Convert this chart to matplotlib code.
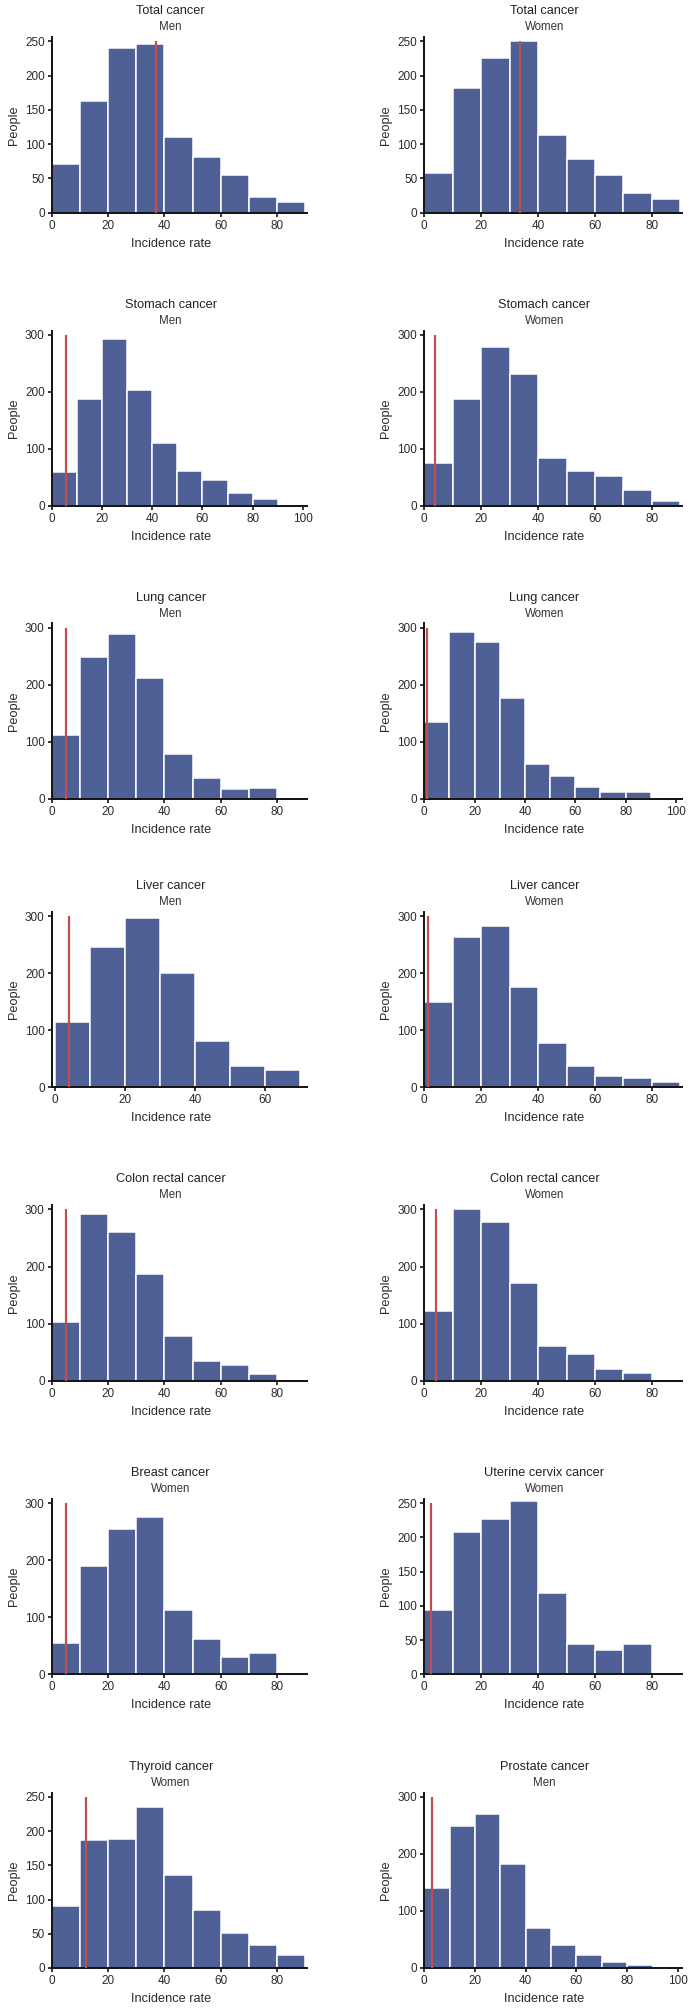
import matplotlib.pyplot as plt
from matplotlib import font_manager

# ---- data ----
cancer_types = [
    "Total cancer", "Total cancer",
    "Stomach cancer", "Stomach cancer",
    "Lung cancer", "Lung cancer",
    "Liver cancer", "Liver cancer",
    "Colon rectal cancer", "Colon rectal cancer",
    "Breast cancer", "Uterine cervix cancer",
    "Thyroid cancer", "Prostate cancer",
]
sexes = [
    "Men", "Women", "Men", "Women", "Men", "Women", "Men", "Women",
    "Men", "Women", "Women", "Women", "Women", "Men",
]

# people per incidence-rate bin (bins 0-10, 10-20, ...)
total_men = [71, 163, 241, 247, 110, 81, 55, 23, 16]
total_women = [58, 182, 226, 251, 113, 78, 55, 29, 20]
stomach_men = [60, 188, 293, 203, 110, 61, 45, 23, 12, 0]
stomach_women = [75, 188, 279, 232, 84, 61, 53, 28, 9]
lung_men = [112, 249, 289, 212, 79, 37, 17, 19, 0]
lung_women = [135, 293, 275, 177, 61, 40, 21, 12, 12, 0]
liver_men = [114, 245, 296, 201, 82, 38, 30]
liver_women = [150, 263, 282, 175, 77, 38, 19, 16, 9]
colon_men = [103, 292, 260, 187, 78, 34, 27, 12, 0]
colon_women = [122, 300, 278, 171, 61, 47, 20, 13, 0]
breast_women = [55, 189, 254, 276, 112, 62, 30, 37, 0]
cervix_women = [94, 208, 227, 253, 119, 44, 35, 44, 0]
thyroid_women = [91, 187, 189, 235, 136, 85, 51, 34, 19]
prostate_men = [141, 248, 270, 182, 70, 41, 23, 11, 5, 2]

counts = [
    total_men, total_women, stomach_men, stomach_women,
    lung_men, lung_women, liver_men, liver_women,
    colon_men, colon_women, breast_women, cervix_women,
    thyroid_women, prostate_men,
]

# national reference incidence rate (red line)
ref_rate = [37.0, 33.5, 5.7, 3.7, 5.1, 1.1, 4.0, 1.3, 5.1, 4.0, 5.1, 2.4, 12.1, 3.0]

# axis ranges
y_top = [250, 250, 300, 300, 300, 300, 300, 300, 300, 300, 300, 250, 250, 300]
y_step = [50, 50, 100, 100, 100, 100, 100, 100, 100, 100, 100, 50, 50, 100]
x_lims = [
    (0, 90.6), (0, 90.6), (0, 101.6), (0, 90.6), (0, 90.6), (0, 102.4), (-1, 72),
    (0, 90.6), (0, 90.6), (0, 90.6), (0, 90.6), (0, 90.6), (0, 90.6), (0, 101.6),
]
x_tick_max = [80, 80, 100, 80, 80, 100, 60, 80, 80, 80, 80, 80, 80, 100]

BIN = 10
BAR_COLOR = "#4E6096"
LINE_COLOR = "#C0504D"
TEXT_COLOR = "#2a2a2a"

available = {f.name for f in font_manager.fontManager.ttflist}
family = "Liberation Sans Narrow" if "Liberation Sans Narrow" in available else "Liberation Sans"
plt.rcParams["font.family"] = [family, "DejaVu Sans"]
narrow = family == "Liberation Sans Narrow"

# the reference uses a condensed face; shrink sizes when only the normal width is there
fs_title = 10.5 if narrow else 9.2
fs_sub = 9.5 if narrow else 8.3
fs_label = 10.5 if narrow else 9.2
fs_tick = 9.5 if narrow else 8.5

W, H = 694, 2014
fig = plt.figure(figsize=(W / 100, H / 100), dpi=100)

# axes frame in pixels
col_left = [51.7, 424.3]
col_width = [255.3, 257.7]
row_bottom = [212.7, 506.0, 799.0, 1087.3, 1380.7, 1674.3, 1968.0]
ax_h = 175.5

for i in range(len(counts)):
    row, col = divmod(i, 2)
    left = col_left[col] / W
    bottom = 1 - row_bottom[row] / H
    ax = fig.add_axes([left, bottom, col_width[col] / W, ax_h / H])

    vals = counts[i]
    edges = [BIN * k for k in range(len(vals))]
    ax.bar(edges, vals, width=BIN, align="edge", color=BAR_COLOR,
           edgecolor="white", linewidth=1.1, zorder=2)
    ax.vlines(ref_rate[i], 0, y_top[i], color=LINE_COLOR, linewidth=1.6, zorder=3)

    ax.set_xlim(*x_lims[i])
    ax.set_ylim(0, y_top[i] * 1.025)
    ax.set_xticks(range(0, x_tick_max[i] + 1, 20))
    ax.set_yticks(range(0, y_top[i] + 1, y_step[i]))

    for side in ("top", "right"):
        ax.spines[side].set_visible(False)
    for side in ("left", "bottom"):
        ax.spines[side].set_linewidth(1.4)
        ax.spines[side].set_color("#111111")
    ax.tick_params(direction="out", length=3, width=1.1, labelsize=fs_tick,
                   labelcolor=TEXT_COLOR, pad=2)

    ax.set_xlabel("Incidence rate", fontsize=fs_label, color=TEXT_COLOR, va="center")
    ax.xaxis.set_label_coords(0.466, -31 / ax_h)
    ax.set_ylabel("People", fontsize=fs_label, color=TEXT_COLOR, va="center")
    ax.yaxis.set_label_coords(-38 / col_width[col], 0.5)

    ax.annotate(cancer_types[i], xy=(0.466, 1), xycoords="axes fraction",
                xytext=(0, 18.6), textcoords="offset points",
                ha="center", va="center", fontsize=fs_title, color="#222222")
    ax.annotate(sexes[i], xy=(0.466, 1), xycoords="axes fraction",
                xytext=(0, 7.0), textcoords="offset points",
                ha="center", va="center", fontsize=fs_sub, color="#333333")

fig.savefig("out.png", dpi=100)
